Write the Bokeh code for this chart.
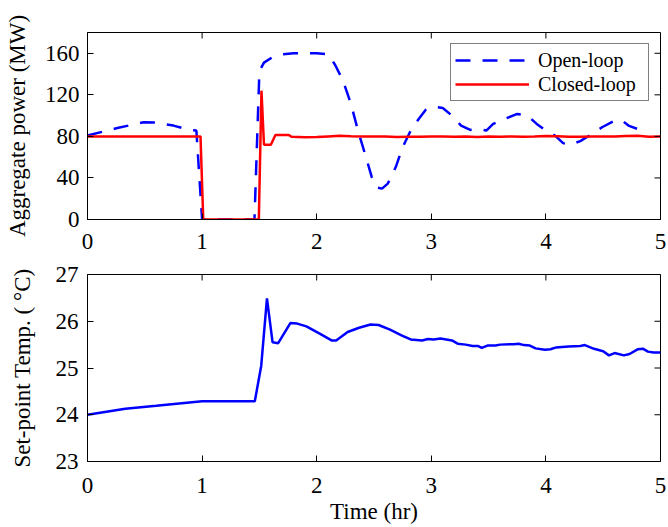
import math
from bokeh.plotting import figure
from bokeh.layouts import column
from bokeh.models import FixedTicker, Range1d, Legend, LegendItem
from bokeh.embed import file_html
from bokeh.resources import INLINE

# ---------------- data ----------------
x_ticks = [0, 1, 2, 3, 4, 5]
power_ticks = [0, 40, 80, 120, 160]
temp_ticks = [23, 24, 25, 26, 27]

open_t = [0.0, 0.26, 0.49, 0.59, 0.75, 0.89, 0.95, 1.0, 1.2, 1.457, 1.50, 1.54, 1.61, 1.70, 1.80,
          2.0, 2.10, 2.16, 2.23, 2.30, 2.36, 2.43, 2.48, 2.52, 2.57, 2.62, 2.69, 2.75, 2.82,
          2.89, 2.95, 3.03, 3.10, 3.18, 3.26, 3.34, 3.43, 3.48, 3.54, 3.64, 3.75, 3.84, 3.92,
          4.02, 4.08, 4.15, 4.21, 4.30, 4.38, 4.49, 4.59, 4.66, 4.72, 4.80, 4.87]
open_p = [80.8, 88.0, 93.6, 93.3, 90.4, 86.2, 85.6, 0.0, 0.0, 0.0, 143.0, 151.0, 156.0, 159.0, 160.0,
          160.0, 159.0, 149.0, 133.5, 111.0, 85.6, 60.0, 41.0, 31.0, 29.7, 34.5, 50.5, 69.6, 85.6,
          96.8, 105.4, 108.6, 107.3, 100.0, 90.4, 86.2, 86.9, 85.6, 92.0, 96.8, 101.6, 100.0, 92.0,
          84.0, 80.8, 73.5, 71.9, 75.4, 80.8, 88.8, 94.5, 95.8, 90.4, 87.2, 89.4]

closed_t = [0.0, 0.986, 1.01, 1.495, 1.518, 1.54, 1.60, 1.64, 1.757, 1.78, 1.9, 2.0, 2.1, 2.2,
            2.3, 2.4, 2.5, 2.6, 2.7, 2.8, 2.9, 3.0, 3.1, 3.2, 3.3, 3.4, 3.5, 3.6, 3.7, 3.8,
            3.9, 4.0, 4.1, 4.2, 4.3, 4.4, 4.5, 4.6, 4.7, 4.8, 4.9, 5.0]
closed_p = [80.0, 80.0, 0.0, 0.0, 124.0, 72.0, 72.0, 81.4, 81.4, 79.6, 79.2, 79.3, 80.0, 80.5,
            80.2, 80.0, 80.0, 79.8, 79.5, 79.6, 79.7, 80.0, 79.8, 79.6, 79.9, 79.5, 80.0, 79.7, 79.9, 79.6,
            79.8, 80.4, 80.1, 79.7, 79.6, 80.0, 79.8, 79.9, 80.3, 80.5, 79.7, 80.0]

temp_t = [0.0, 0.33, 0.6, 0.8, 1.0, 1.46, 1.516, 1.566, 1.615, 1.664, 1.77, 1.83, 1.91, 2.03, 2.13,
          2.17, 2.27, 2.37, 2.47, 2.54, 2.64, 2.74, 2.82, 2.92, 2.97, 3.02, 3.08, 3.18, 3.23, 3.30,
          3.36, 3.41, 3.44, 3.49, 3.56, 3.60, 3.72, 3.76, 3.81, 3.86, 3.91, 3.99, 4.04, 4.09, 4.14,
          4.20, 4.30, 4.34, 4.42, 4.50, 4.55, 4.60, 4.68, 4.73, 4.80, 4.85, 4.89, 4.94, 5.0]
temp_v = [24.0, 24.13, 24.19, 24.24, 24.29, 24.29, 25.05, 26.49, 25.55, 25.53, 25.96, 25.95, 25.89, 25.73, 25.59,
          25.59, 25.77, 25.86, 25.93, 25.92, 25.82, 25.70, 25.61, 25.59, 25.62, 25.61, 25.63, 25.59, 25.52, 25.50,
          25.47, 25.47, 25.43, 25.48, 25.48, 25.50, 25.51, 25.52, 25.49, 25.48, 25.42, 25.39, 25.40, 25.44, 25.45,
          25.46, 25.47, 25.49, 25.41, 25.36, 25.27, 25.32, 25.27, 25.30, 25.40, 25.41, 25.35, 25.33, 25.33]

FONT = "Liberation Serif"
FS = "23px"


def style(p, yticks, y1, x_standoff, tick_standoff, label_standoff):
    p.grid.visible = False
    p.outline_line_color = "black"
    p.outline_line_width = 1
    p.background_fill_color = "white"
    p.border_fill_color = "white"
    for ax in p.axis:
        ax.axis_line_color = "black"
        ax.axis_line_width = 1
        ax.major_tick_in = 6
        ax.major_tick_out = 0
        ax.minor_tick_line_color = None
        ax.major_tick_line_color = "black"
        ax.major_label_text_font = FONT
        ax.major_label_text_font_size = FS
        ax.major_label_text_color = "black"
        ax.axis_label_text_font = FONT
        ax.axis_label_text_font_size = FS
        ax.axis_label_text_font_style = "normal"
        ax.axis_label_text_color = "black"
    p.xaxis[0].ticker = FixedTicker(ticks=x_ticks)
    p.yaxis[0].ticker = FixedTicker(ticks=yticks)
    p.xaxis[0].major_label_standoff = x_standoff
    p.yaxis[0].major_label_standoff = tick_standoff
    p.yaxis[0].axis_label_standoff = label_standoff
    # inward ticks on the top and right edges of the box
    p.ray(x=x_ticks, y=[y1] * len(x_ticks), length=6, length_units="screen",
          angle=-math.pi / 2, line_color="black", line_width=1)
    p.ray(x=[x_ticks[-1]] * len(yticks), y=yticks, length=6, length_units="screen",
          angle=math.pi, line_color="black", line_width=1)


p1 = figure(width=668, height=261, x_range=Range1d(0, 5), y_range=Range1d(0, 180),
            output_backend="svg", toolbar_location=None,
            min_border_left=87, min_border_right=8, min_border_top=32, min_border_bottom=42)
r_open = p1.line(open_t, open_p, line_color="#0000FF", line_width=2.5, line_dash="15 12")
r_closed = p1.line(closed_t, closed_p, line_color="#FF0000", line_width=2.5)
p1.yaxis.axis_label = "Aggregate power (MW)"
style(p1, power_ticks, 180, 14, 8, 12)

legend = Legend(items=[LegendItem(label="Open-loop", renderers=[r_open]),
                       LegendItem(label="Closed-loop", renderers=[r_closed])],
                location="top_right")
legend.label_text_font = FONT
legend.label_text_font_size = "20px"
legend.label_text_color = "black"
legend.border_line_color = "black"
legend.border_line_width = 1
legend.glyph_width = 74
legend.glyph_height = 24
legend.label_height = 24
legend.label_width = 106
legend.spacing = 0
legend.padding = 4
legend.margin = 11
legend.label_standoff = 9
legend.background_fill_alpha = 1
p1.add_layout(legend)

p2 = figure(width=668, height=266, x_range=Range1d(0, 5), y_range=Range1d(23, 27),
            output_backend="svg", toolbar_location=None,
            min_border_left=87, min_border_right=8, min_border_top=13, min_border_bottom=66)
p2.line(temp_t, temp_v, line_color="#0000FF", line_width=2.5)
p2.yaxis.axis_label = "Set-point Temp. ( °C)"
p2.xaxis.axis_label = "Time (hr)"
style(p2, temp_ticks, 27, 16, 9, 18)
p2.xaxis[0].axis_label_standoff = 3

layout = column(p1, p2, spacing=0)

open("out.html", "w").write(file_html(layout, INLINE))
